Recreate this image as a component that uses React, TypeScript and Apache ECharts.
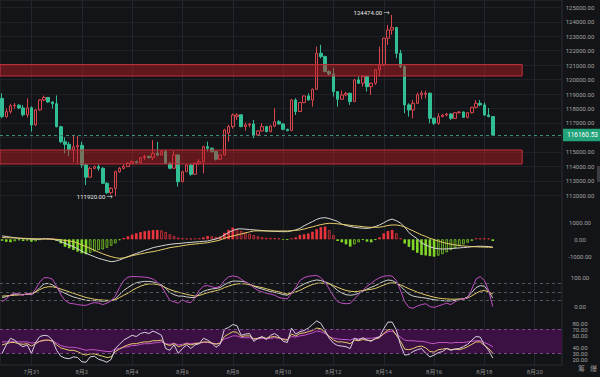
import React, { useEffect, useRef } from 'react';
import * as echarts from 'echarts';

// ---- time axis (4h candles) ----
const START_UTC = Date.UTC(2025, 6, 29, 20, 0);
const STEP_HOURS = 4;
const TOTAL_SLOTS = 134;
const LABEL_FIRST_INDEX = 7;
const LABEL_EVERY = 12;

// ---- candles ----
const opens = [118700,117440,117780,118190,118230,118040,117560,118050,116860,117900,118590,118760,118450,118330,116740,115700,115520,115150,115350,115450,114100,113250,113860,113980,113860,112830,112180,112480,113630,113860,113980,114210,114320,114260,114600,114680,114600,114900,114780,115020,114210,113870,114790,112940,113630,114090,113450,114210,114320,115360,115250,115020,114490,114790,116300,116750,117450,117560,116750,116860,116930,116170,116450,116750,116400,116790,117090,116930,116560,116470,118590,117790,118410,118870,118590,119330,121820,121590,120550,120390,119170,118640,118940,119050,118480,119980,119750,120210,119510,119750,120670,121010,122860,123430,123600,121820,120900,118250,117900,118360,118950,118990,119060,117320,116980,117440,117550,117620,117320,117710,117760,117390,117710,118080,118360,118250,117550,117440];
const closes = [117440,117780,118190,118230,118040,117560,118050,116860,117900,118590,118760,118450,118330,116740,115700,115520,115150,115350,115450,114100,113250,113860,113980,113860,112830,112180,112480,113630,113860,113980,114210,114320,114260,114600,114680,114600,114900,114780,115020,114210,113870,114790,112940,113630,114090,113450,114210,114320,115360,115250,115020,114490,114790,116520,116750,117550,117560,116750,116860,116930,116170,116450,116750,116400,116790,117090,116930,116560,116470,118590,117790,118410,118870,118590,119330,121820,121590,120550,120390,119170,118640,118940,119050,118480,119980,119750,120210,119510,119750,120670,121010,122860,123430,123600,121820,120900,118250,117900,118360,118950,119070,119060,117320,116980,117440,117550,117620,117320,117710,117760,117390,117710,118080,118360,118250,117550,117440,116160.53];
const lows = [117320,117350,117650,117970,117950,117450,117380,116400,116800,117850,118500,118400,118000,116700,115600,114900,114700,114300,114200,113900,112700,113200,113800,113700,112780,112100,112050,111920,113550,113800,113950,114150,114200,114200,114430,114550,114440,114700,114750,114150,113800,113850,112600,112900,113600,113350,113400,114100,113520,115020,114950,114400,114440,114750,115710,116600,117210,116700,116470,116700,115940,116100,116400,116350,116350,116700,116880,116500,116420,116440,117550,117750,118360,118550,118130,119300,121470,120500,120300,118820,118130,118590,118850,118250,118450,119700,119510,119170,118940,119630,120210,120950,122400,123100,121470,120800,117670,117440,117320,118300,118640,118700,116980,116860,116860,117390,117450,117210,117300,117650,117350,117320,117650,118000,118150,117500,117390,116100];
const highs = [119050,118000,118300,118380,118300,118250,118700,118150,117950,118650,118900,118800,118500,118900,116800,116000,115700,116170,116100,115700,114200,113950,114050,114150,113950,112900,112560,113700,113950,114150,114300,114400,114400,114650,114800,114750,115820,115700,115100,115150,114300,115060,114850,113700,114150,114140,114260,114500,115420,115710,115300,115050,114850,116600,116860,117650,117670,117600,117020,117000,117210,116500,116980,116800,116850,118020,117200,116980,116600,118650,118710,118450,118900,119050,119380,122280,122400,121650,120650,120780,119200,119240,119150,119100,120050,120210,120320,120250,119800,120720,122280,122900,123780,124474,123650,122050,121000,118360,118590,119100,119240,119240,119100,117400,117670,117620,117700,117680,117750,117820,117800,117750,118120,118590,118590,118410,118020,117480];

// ---- resistance / support zones [low, high] ----
const zones = [[120250, 121040], [114160, 115130]];
const ZONE_END_INDEX = 124;
const lastPrice = 116160.53;
const hiddenPriceLabels = [116000];

// ---- MACD ----
const macdHist = [-80,-150,-180,-120,-60,-100,-80,-150,-120,-40,30,60,50,-100,-240,-435,-534,-633,-732,-830,-890,-800,-720,-650,-600,-500,-380,-240,-50,80,180,280,360,430,480,520,550,560,530,430,300,200,100,60,50,40,50,60,120,200,180,150,170,380,560,700,600,500,400,320,250,180,120,90,80,70,60,-40,-30,60,120,260,300,350,450,600,720,760,550,250,-100,-180,-300,-435,-300,-180,-30,-140,-180,-30,120,356,494,554,356,60,-250,-450,-650,-800,-930,-960,-1000,-1030,-970,-880,-770,-640,-530,-420,-300,-200,-100,60,60,55,50,-100];
const macdDif = [200,170,130,100,60,40,30,10,0,10,30,20,0,-40,-140,-240,-340,-435,-560,-700,-830,-930,-1030,-1130,-1200,-1270,-1325,-1300,-1225,-1130,-1030,-930,-840,-750,-660,-580,-495,-440,-390,-340,-300,-270,-250,-230,-200,-180,-160,-140,-120,-100,-40,20,100,257,400,520,610,620,600,580,560,540,520,495,480,470,460,455,455,500,560,650,800,930,1050,1180,1260,1285,1230,1150,1060,900,820,760,710,680,660,650,680,760,850,980,1120,1200,1100,960,720,400,200,30,-220,-330,-450,-520,-560,-575,-570,-550,-530,-510,-490,-470,-440,-420,-410,-420,-430,-470];
const macdDea = [100,95,90,80,70,60,50,40,30,25,22,20,15,0,-30,-70,-100,-140,-230,-330,-435,-540,-650,-760,-860,-950,-1030,-1090,-1130,-1100,-1040,-970,-920,-870,-820,-770,-730,-680,-620,-560,-495,-460,-420,-380,-340,-300,-280,-250,-230,-200,-150,-100,-40,60,130,200,257,320,380,440,495,500,500,500,495,495,495,495,495,505,530,555,610,680,740,810,870,920,950,940,920,890,860,830,800,780,750,720,710,710,720,760,820,850,850,810,740,610,500,380,260,170,60,-20,-100,-180,-240,-290,-336,-370,-395,-415,-435,-445,-455,-462,-470,-475];

// ---- KDJ ----
const kdjK = [30,33,38,42,42,40,42,40,50,65,78,80,75,65,52,45,38,32,28,24,20,19,19,18,17,18,19,25,40,55,65,75,82,85,87,87,85,80,75,62,48,40,35,35,32,30,30,42,52,57,60,62,65,75,83,88,88,87,85,78,70,64,60,55,51,48,45,40,38,48,60,70,78,84,89,92,90,85,80,68,55,46,40,38,40,45,52,60,66,72,80,87,92,90,82,70,55,42,35,32,30,28,25,22,20,19,18,18,20,22,25,32,48,65,72,70,52,28];
const kdjD = [35,36,37,38,39,40,43,45,50,58,65,68,68,65,60,55,50,45,40,35,30,27,24,22,21,20,20,22,30,38,45,55,63,70,75,78,78,76,72,65,58,53,49,45,41,38,35,37,42,47,51,54,58,65,70,75,78,79,78,75,71,68,65,61,57,53,50,46,42,45,50,55,63,70,76,80,81,80,78,72,66,60,55,52,51,52,55,57,59,62,68,74,80,82,80,75,68,61,55,49,44,39,35,31,28,26,25,24,24,25,25,28,36,45,52,55,50,42];
const kdjJ = [15,25,40,45,42,38,45,40,60,85,100,100,95,70,40,20,10,8,5,3,2,8,12,10,5,10,18,35,65,90,102,104,104,103,102,100,95,85,70,45,20,15,10,22,14,12,30,55,70,72,68,65,70,90,103,106,104,95,85,78,65,55,50,45,42,38,30,27,25,45,65,90,100,105,107,108,100,85,60,35,15,10,8,9,25,40,55,70,80,92,100,105,107,106,90,55,15,-5,-8,0,5,8,-2,-5,0,5,10,5,15,22,25,28,60,95,104,90,55,-2];

// ---- RSI ----
const rsi6 = [30,44,55,52,45,41,44,30,48,58,60,59,52,35,25,22,21,24,23,16,15,24,25,20,18,15,20,38,45,52,56,60,58,63,65,63,67,64,60,38,35,44,30,38,44,38,44,46,55,52,47,40,45,70,73,78,76,60,62,63,50,55,58,53,60,63,58,50,48,72,62,66,68,72,78,84,80,68,55,47,43,42,41,38,55,52,56,52,50,55,57,71,82,82,69,44,27,28,33,36,38,30,24,27,31,33,38,35,37,38,41,45,52,58,57,44,35,22];
const rsi12 = [44,46,48,48,46,45,46,42,46,50,52,52,50,44,39,37,35,35,33,29,27,29,29,27,25,23,24,33,37,41,44,46,46,48,49,49,51,51,52,45,43,46,41,43,46,44,46,47,49,49,47,45,47,58,62,66,65,58,59,59,54,55,57,55,57,58,56,53,52,62,59,63,64,66,68,72,71,65,58,52,49,49,48,46,52,51,53,52,51,54,56,63,69,70,60,50,37,36,38,41,42,39,33,32,36,37,38,36,37,36,38,41,45,49,49,43,38,30];
const rsi24 = [49,49,50,50,49,49,49,47,48,50,51,52,51,47,43,41,40,40,39,37,35,36,36,35,34,33,33,37,38,40,41,43,43,45,46,46,47,48,49,46,45,47,44,45,47,46,47,47,48,48,47,46,47,54,56,59,59,56,56,56,54,54,55,54,55,56,55,54,53,58,57,59,60,62,64,67,66,63,58,55,54,53,53,52,55,54,55,55,55,56,58,62,66,67,62,57,52,51,51,50,50,49,47,46,48,48,48,47,48,48,48,49,50,51,51,48,45,41];
const rsiLabels = [20, 30, 40, 60, 70, 80];

const BG = '#131417';
const UP = '#d9464d';
const DOWN = '#33bf95';
const FONT = 'Roboto, "Noto Sans CJK SC", sans-serif';

export default function App() {
  const ref = useRef<HTMLDivElement>(null);
  useEffect(() => {
    if (!ref.current) return;
    const chart = echarts.init(ref.current, null, { renderer: 'svg' });

    const categories = Array.from({ length: TOTAL_SLOTS }, (_, i) => {
      const d = new Date(START_UTC + i * STEP_HOURS * 3600 * 1000);
      return `${d.getUTCMonth() + 1}/${d.getUTCDate()} ${String(d.getUTCHours()).padStart(2, '0')}:00`;
    });
    const isLabelIdx = (i: number) => i >= LABEL_FIRST_INDEX && (i - LABEL_FIRST_INDEX) % LABEL_EVERY === 0;
    const fmtDate = (v: string) => {
      const [md] = v.split(' ');
      const [m, d] = md.split('/');
      return `${m}月${d}`;
    };

    const candleData = opens.map((o, i) => [o, closes[i], lows[i], highs[i]]);
    const histData = macdHist.map((v, i) => {
      const prev = i > 0 ? macdHist[i - 1] : 0;
      const hollow = i > 0 && Math.sign(prev) === Math.sign(v) && Math.abs(v) < Math.abs(prev);
      const c = v >= 0 ? '#e8343c' : '#7fd626';
      return {
        value: v,
        itemStyle: hollow
          ? { color: 'rgba(0,0,0,0)', borderColor: c, borderWidth: 0.8 }
          : { color: c, borderColor: c, borderWidth: 0 },
      };
    });

    const W = 562 / TOTAL_SLOTS;
    const RIGHT = 38;
    const hiddenX = (gi: number) => ({
      type: 'category', gridIndex: gi, data: categories, show: false, boundaryGap: true,
    });
    const labelStyle = { color: '#a3a3a3', fontSize: 6, fontFamily: FONT };

    chart.setOption({
      animation: false,
      backgroundColor: BG,
      grid: [
        { left: 0, right: RIGHT, top: 0, height: 209.7 },
        { left: 0, right: RIGHT, top: 205.6, height: 67.4 },
        { left: 0, right: RIGHT, top: 249.4, height: 84.9 },
        { left: 0, right: RIGHT, top: 311.3, height: 60 },
        { left: W / 2, right: RIGHT + W / 2, top: 0, height: 365 },
        { left: 0, right: RIGHT, top: 0, height: 365, show: true, borderColor: '#2a2c31', borderWidth: 1, backgroundColor: 'rgba(0,0,0,0)' },
      ],
      xAxis: [
        hiddenX(0), hiddenX(1), hiddenX(2), hiddenX(3),
        {
          type: 'category', gridIndex: 4, data: categories, boundaryGap: false,
          axisLine: { show: false }, axisTick: { show: false },
          axisLabel: {
            interval: (i: number) => isLabelIdx(i), formatter: fmtDate,
            color: '#8e8e8e', fontSize: 6, fontFamily: FONT, margin: 3,
          },
          splitLine: { show: true, interval: (i: number) => isLabelIdx(i), lineStyle: { color: '#24262b', width: 1 } },
        },
      ],
      yAxis: [
        {
          type: 'value', gridIndex: 0, position: 'right', min: 111000, max: 125505, interval: 1000,
          axisLine: { show: false }, axisTick: { show: false },
          axisLabel: {
            ...labelStyle, margin: 18, align: 'center', showMinLabel: false, showMaxLabel: false,
            formatter: (v: number) => (hiddenPriceLabels.includes(v) || v > 125000 ? '' : v.toFixed(2)),
          },
          splitLine: { show: true, showMinLine: false, showMaxLine: false, lineStyle: { color: '#1f2125' } },
        },
        {
          type: 'value', gridIndex: 1, position: 'right', min: -2000, max: 2000, interval: 1000,
          axisLine: { show: false }, axisTick: { show: false },
          axisLabel: { ...labelStyle, margin: 18, align: 'center', showMinLabel: false, showMaxLabel: false, formatter: (v: number) => v.toFixed(2) },
          splitLine: { show: false },
        },
        {
          type: 'value', gridIndex: 2, position: 'right', min: -100, max: 200, interval: 100,
          axisLine: { show: false }, axisTick: { show: false },
          axisLabel: { ...labelStyle, margin: 18, align: 'center', showMinLabel: false, showMaxLabel: false, formatter: (v: number) => v.toFixed(2) },
          splitLine: { show: false },
        },
        {
          type: 'value', gridIndex: 3, position: 'right', min: 0, max: 100, interval: 10,
          axisLine: { show: false }, axisTick: { show: false },
          axisLabel: { ...labelStyle, margin: 18, align: 'center', formatter: (v: number) => (rsiLabels.includes(v) ? v.toFixed(2) : '') },
          splitLine: { show: false },
        },
        { type: 'value', gridIndex: 4, show: false },
      ],
      series: [
        {
          type: 'candlestick', xAxisIndex: 0, yAxisIndex: 0, data: candleData, barWidth: 3,
          itemStyle: { color: 'rgba(0,0,0,0)', color0: DOWN, borderColor: UP, borderColor0: DOWN, borderWidth: 1 },
          markArea: {
            silent: true, z: 4,
            itemStyle: { color: 'rgba(190,28,38,0.45)', borderColor: '#c2303a', borderWidth: 1 },
            data: zones.map(([lo, hi]) => [
              { yAxis: hi },
              { xAxis: categories[ZONE_END_INDEX], yAxis: lo },
            ]),
          },
          markLine: {
            silent: true, symbol: ['none', 'none'],
            lineStyle: { type: [3, 3], color: '#3f8e78', width: 1 },
            label: {
              position: 'end', distance: 1, formatter: () => lastPrice.toFixed(2),
              color: '#ffffff', backgroundColor: '#22a37a', fontSize: 6.5, fontFamily: FONT,
              padding: [3, 3, 3, 4],
            },
            data: [{ yAxis: lastPrice }],
          },
          markPoint: {
            silent: true, symbol: 'circle', symbolSize: 1,
            itemStyle: { color: 'rgba(0,0,0,0)' },
            label: {
              position: 'left', distance: 2, color: '#e6e6e6', fontSize: 6, fontFamily: FONT,
              formatter: (p: any) => `${Number(p.value).toFixed(2)} →`,
            },
            data: [
              { type: 'max', valueDim: 'highest', label: { offset: [0, -2] } },
              { type: 'min', valueDim: 'lowest' },
            ],
          },
        },
        { type: 'bar', xAxisIndex: 1, yAxisIndex: 1, data: histData, barWidth: 2.6 },
        { type: 'line', xAxisIndex: 1, yAxisIndex: 1, data: macdDif, symbol: 'none', lineStyle: { color: '#d6d6d6', width: 1 } },
        { type: 'line', xAxisIndex: 1, yAxisIndex: 1, data: macdDea, symbol: 'none', lineStyle: { color: '#e6cc6a', width: 1 } },
        {
          type: 'line', xAxisIndex: 2, yAxisIndex: 2, data: kdjK, symbol: 'none', lineStyle: { color: '#cfcfcf', width: 1 },
          markLine: {
            silent: true, symbol: ['none', 'none'], label: { show: false },
            lineStyle: { type: [3, 3], color: '#55575c', width: 1 },
            data: [{ yAxis: 80 }, { yAxis: 50 }, { yAxis: 20 }],
          },
        },
        { type: 'line', xAxisIndex: 2, yAxisIndex: 2, data: kdjD, symbol: 'none', lineStyle: { color: '#e6cc6a', width: 1 } },
        { type: 'line', xAxisIndex: 2, yAxisIndex: 2, data: kdjJ, symbol: 'none', lineStyle: { color: '#c24fc6', width: 1 } },
        {
          type: 'line', xAxisIndex: 3, yAxisIndex: 3, data: rsi24, symbol: 'none', lineStyle: { color: '#c455c8', width: 1 }, z: 3,
          markArea: {
            silent: true, z: 1,
            itemStyle: { color: '#3a1142' },
            data: [[{ yAxis: 30 }, { yAxis: 70 }]],
          },
          markLine: {
            silent: true, symbol: ['none', 'none'], label: { show: false },
            lineStyle: { type: [3, 3], color: '#7e4a8a', width: 1 },
            data: [{ yAxis: 70 }, { yAxis: 30 }],
          },
        },
        { type: 'line', xAxisIndex: 3, yAxisIndex: 3, data: rsi12, symbol: 'none', lineStyle: { color: '#e6cc6a', width: 1 }, z: 3 },
        { type: 'line', xAxisIndex: 3, yAxisIndex: 3, data: rsi6, symbol: 'none', lineStyle: { color: '#d8d0e2', width: 1 }, z: 3 },
      ],
      graphic: [
        { type: 'text', left: 578, top: 365, style: { text: '筹', fill: '#8e8e8e', fontSize: 7, fontFamily: FONT } },
        { type: 'text', left: 590, top: 365, style: { text: '爆', fill: '#8e8e8e', fontSize: 7, fontFamily: FONT } },
        { type: 'rect', left: 597, top: 166, shape: { width: 3, height: 16 }, style: { fill: '#3a3c42' } },
      ],
    });
    return () => chart.dispose();
  }, []);
  return <div ref={ref} style={{ position: 'fixed', left: 0, top: 0, width: 600, height: 377 }} />;
}
